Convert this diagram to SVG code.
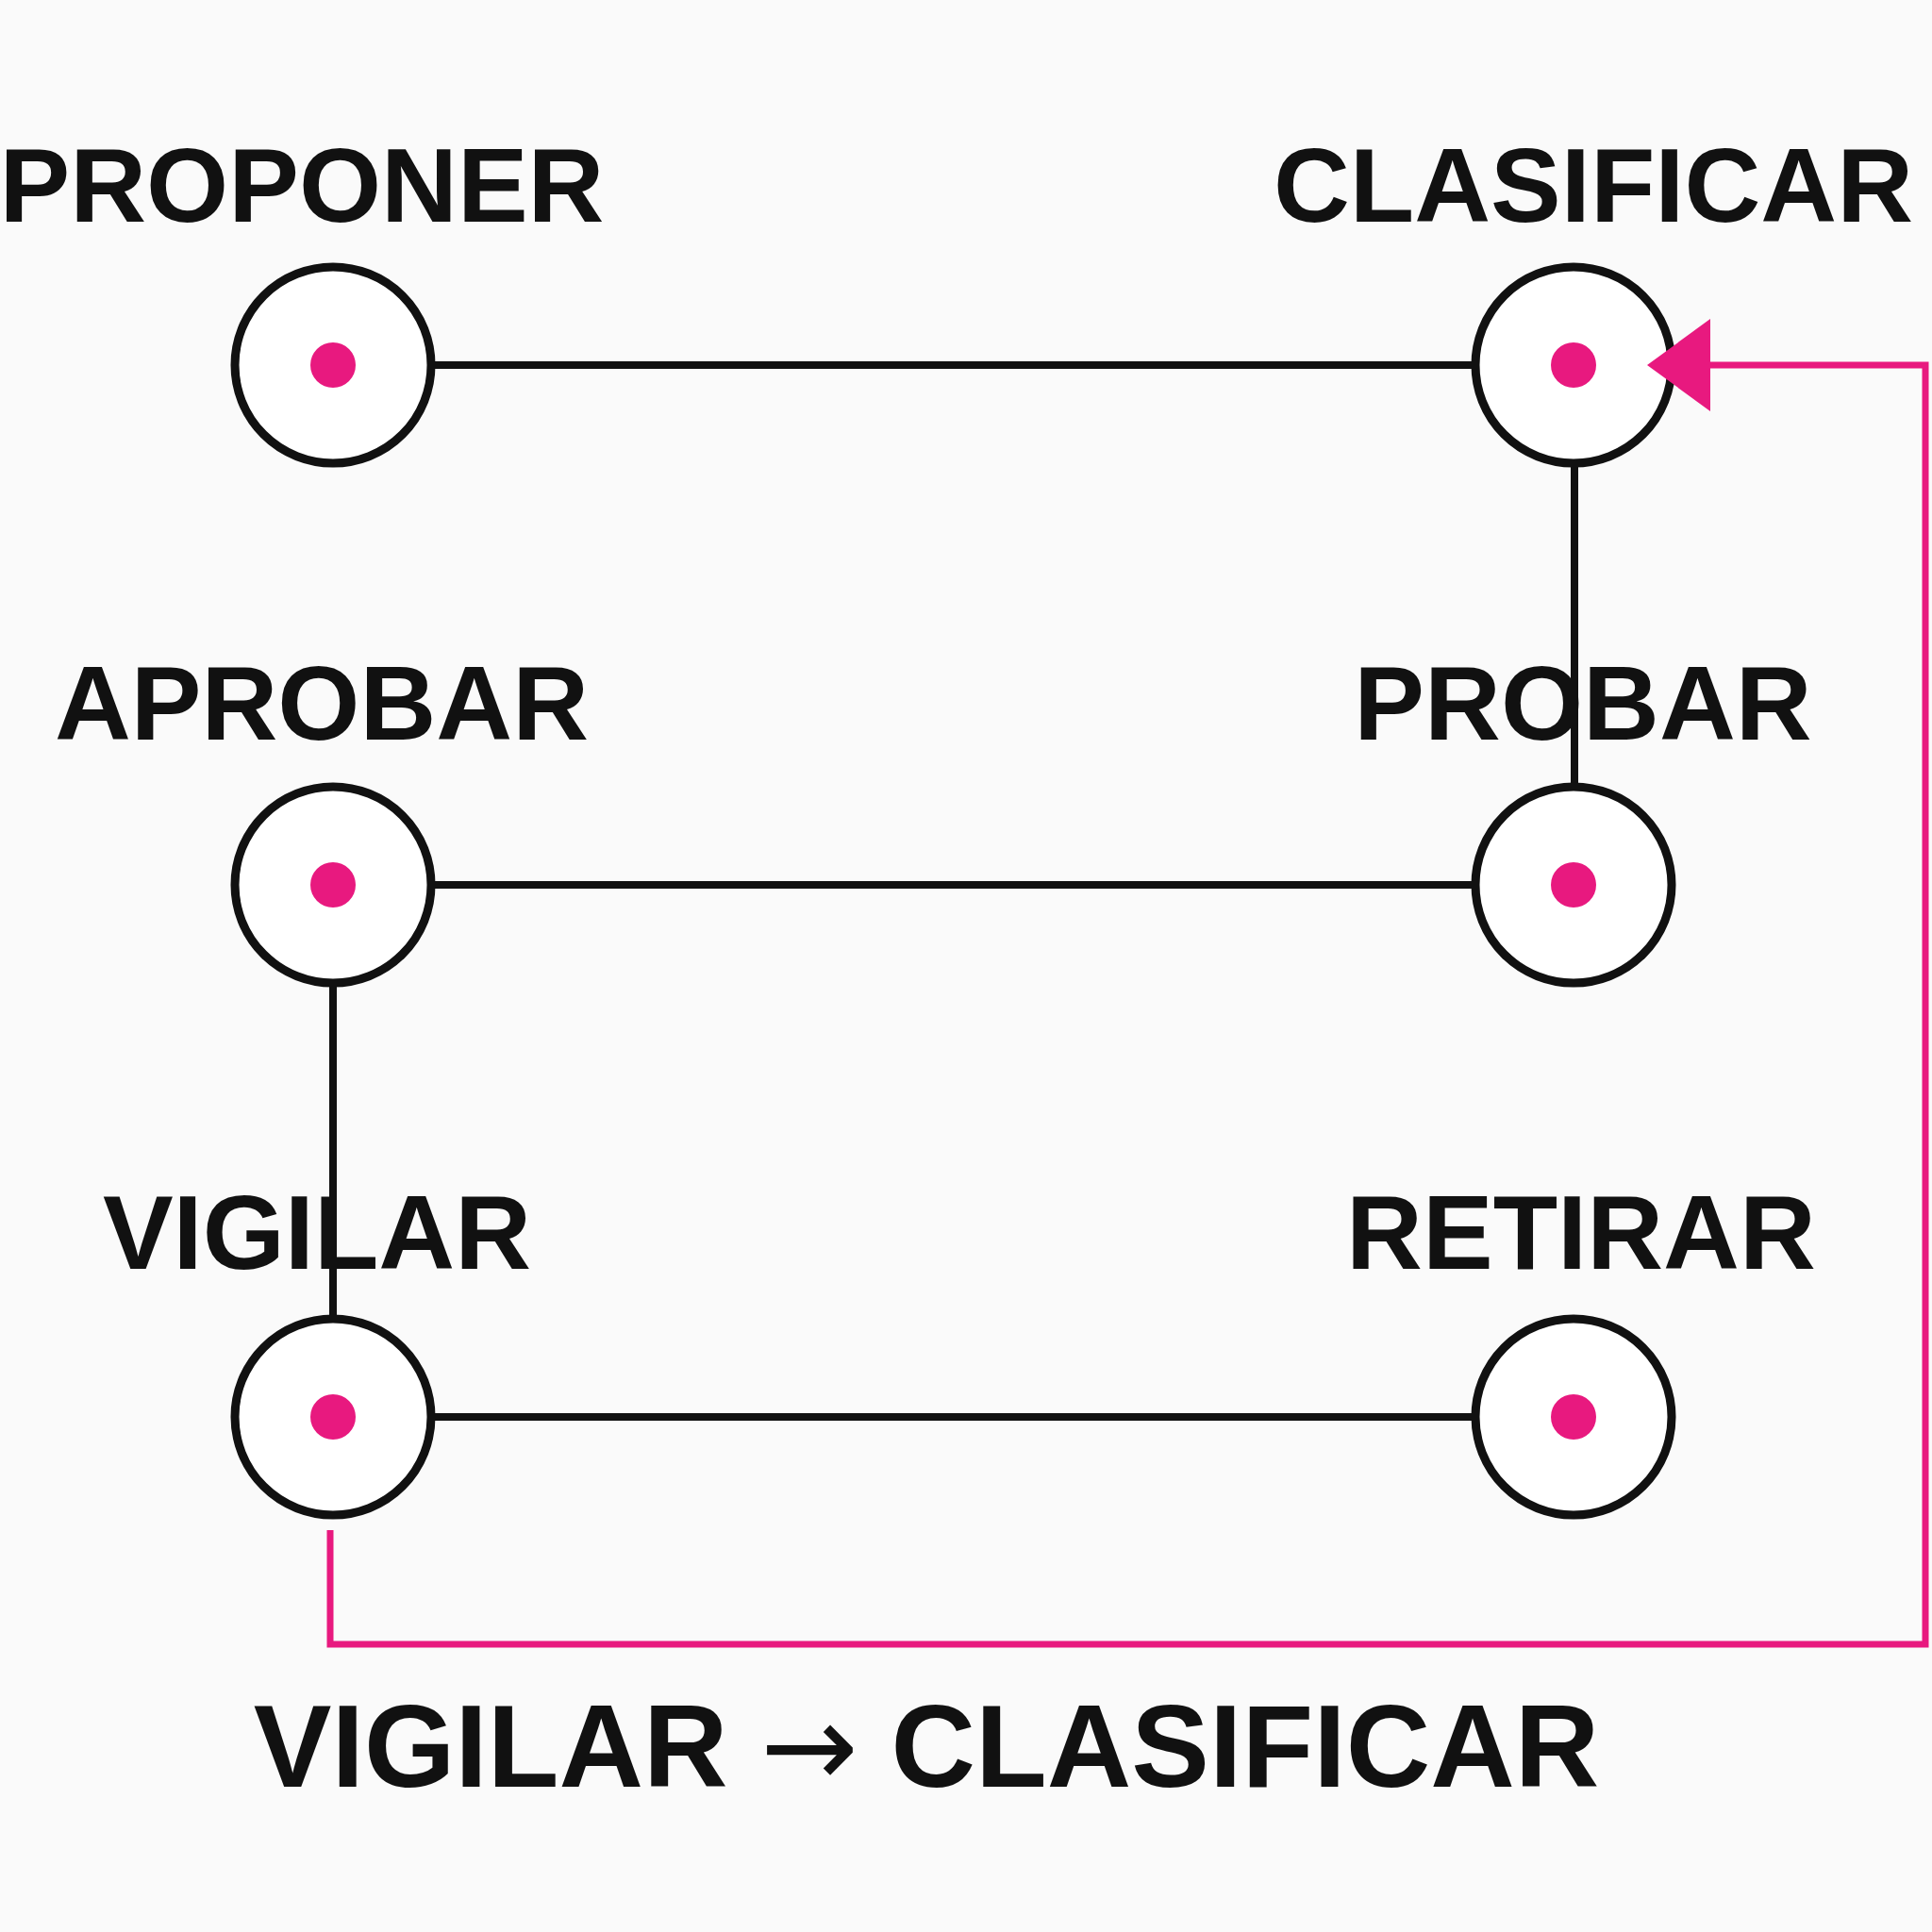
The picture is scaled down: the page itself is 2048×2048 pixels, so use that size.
<svg xmlns="http://www.w3.org/2000/svg" width="2048" height="2048" viewBox="0 0 2048 2048">
<style>
.n{fill:#fff;stroke:#111;stroke-width:9}
.d{fill:#e8197f}
.t{font-family:"Liberation Sans",Arial,sans-serif;font-weight:bold;font-size:112px;fill:#111;text-anchor:middle}
.c{stroke:#111;stroke-width:8;fill:none}
.p{stroke:#e8197f;stroke-width:7;fill:none}
</style>
<rect width="2048" height="2048" fill="#fafafa"/>
<g id="proponer"><circle class="n" cx="353" cy="387" r="104"/><circle class="d" cx="353" cy="387" r="24"/><text class="t" x="320" y="235">PROPONER</text></g>
<g id="clasificar"><circle class="n" cx="1668" cy="387" r="104"/><circle class="d" cx="1668" cy="387" r="24"/><text class="t" x="1689" y="235">CLASIFICAR</text></g>
<g id="aprobar"><circle class="n" cx="353" cy="938" r="104"/><circle class="d" cx="353" cy="938" r="24"/><text class="t" x="341" y="784">APROBAR</text></g>
<g id="probar"><circle class="n" cx="1668" cy="938" r="104"/><circle class="d" cx="1668" cy="938" r="24"/><text class="t" x="1678" y="784">PROBAR</text></g>
<g id="vigilar"><circle class="n" cx="353" cy="1502" r="104"/><circle class="d" cx="353" cy="1502" r="24"/><text class="t" x="336" y="1345">VIGILAR</text></g>
<g id="retirar"><circle class="n" cx="1668" cy="1502" r="104"/><circle class="d" cx="1668" cy="1502" r="24"/><text class="t" x="1676" y="1345">RETIRAR</text></g>
<g id="connectors">
<line class="c" x1="457" y1="387" x2="1564" y2="387"/>
<line class="c" x1="1669" y1="491" x2="1669" y2="834"/>
<line class="c" x1="457" y1="938" x2="1564" y2="938"/>
<line class="c" x1="353" y1="1042" x2="353" y2="1398"/>
<line class="c" x1="457" y1="1502" x2="1564" y2="1502"/>
<polyline class="p" points="350,1622 350,1743 2041,1743 2041,387 1790,387"/>
<polygon fill="#e8197f" points="1746,387 1813,338 1813,436"/>
</g>
<text class="t" x="982" y="1894" style="font-size:124px">VIGILAR <tspan style="font-family:'DejaVu Sans',sans-serif;font-weight:normal">→</tspan> CLASIFICAR</text>
</svg>
